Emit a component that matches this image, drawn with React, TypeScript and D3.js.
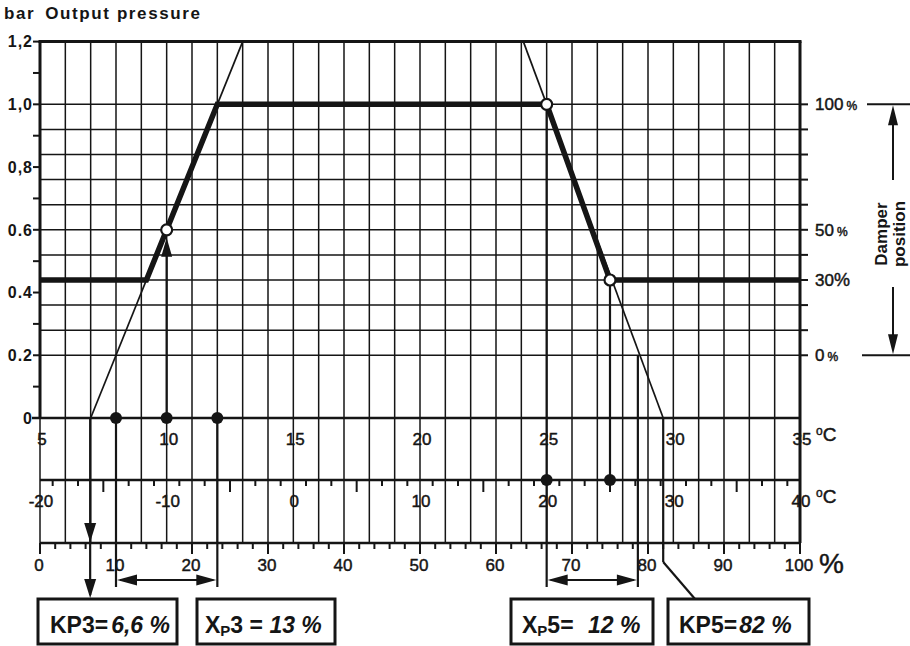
import * as d3 from 'd3';

const W = 910;
const H = 646;
const INK = '#151515';
const FONT = '"Liberation Sans", Arial, Helvetica, sans-serif';

// left axis: output pressure, bar
const PRESSURE_TICKS = [0, 0.2, 0.4, 0.6, 0.8, 1.0, 1.2];
const PRESSURE_LABELS = ['0', '0.2', '0.4', '0.6', '0,8', '1,0', '1,2'];

// right axis: damper position, %
const DAMPER_TICKS = [0, 30, 50, 100];
const DAMPER_LABELS = ['0', '30', '50', '100'];
const DAMPER_SMALL_PCT = [true, false, true, true];

// bottom scales
const ROOM_TEMP_LABELS = [5, 10, 15, 20, 25, 30, 35];
const OUTDOOR_TEMP_LABELS = [-20, -10, 0, 10, 20, 30, 40];
const PERCENT_LABELS = [0, 10, 20, 30, 40, 50, 60, 70, 80, 90, 100];

// control curve (room temperature °C -> bar)
const CURVE_TEMP = [5, 9.2, 12, 25, 27.5, 35];
const CURVE_BAR = [0.44, 0.44, 1.0, 1.0, 0.44, 0.44];

// thin proportional lines
const LEFT_LINE_TEMP = [7, 13];
const LEFT_LINE_BAR = [0, 1.2];
const RIGHT_LINE_TEMP = [24.08, 29.6];
const RIGHT_LINE_BAR = [1.2, 0];

// marked points
const OPEN_POINT_TEMP = [10, 25, 27.5];
const OPEN_POINT_BAR = [0.6, 1.0, 0.44];
const BASE_DOT_TEMP = [8, 10, 12];
const OUTDOOR_DOT_TEMP = [20, 25];

// readings
const KP3_PCT = 6.6;
const KP5_PCT = 82;
const XP3_TEMP = [8, 12];
const XP5_TEMP = [25, 28.6];

function arrowHead(x: number, y: number, dir: 'up' | 'down' | 'left' | 'right', len = 18, hw = 6) {
  if (dir === 'up') return `M${x},${y}L${x - hw},${y + len}L${x + hw},${y + len}Z`;
  if (dir === 'down') return `M${x},${y}L${x - hw},${y - len}L${x + hw},${y - len}Z`;
  if (dir === 'left') return `M${x},${y}L${x + len},${y - hw}L${x + len},${y + hw}Z`;
  return `M${x},${y}L${x - len},${y - hw}L${x - len},${y + hw}Z`;
}

export default function App() {
  const xPct = d3.scaleLinear().domain([0, 100]).range([40, 800]);
  const xRoom = d3.scaleLinear().domain([5, 35]).range([40, 800]);
  const xOut = d3.scaleLinear().domain([-20, 40]).range([40, 800]);
  const yBar = d3.scaleLinear().domain([0, 1.2]).range([418, 41.6]);
  const yDamp = d3.scaleLinear().domain([0, 100]).range([yBar(0.2), yBar(1.0)]);

  const yTop = yBar(1.2);
  const yBase = yBar(0);
  const yOut = 480;
  const yPctLine = 543;
  const xL = xRoom(5);
  const xR = xRoom(35);

  const curve = d3
    .line<number>()
    .x((_, i) => xRoom(CURVE_TEMP[i]))
    .y((_, i) => yBar(CURVE_BAR[i]));
  const leftLine = d3
    .line<number>()
    .x((_, i) => xRoom(LEFT_LINE_TEMP[i]))
    .y((_, i) => yBar(LEFT_LINE_BAR[i]));
  const rightLine = d3
    .line<number>()
    .x((_, i) => xRoom(RIGHT_LINE_TEMP[i]))
    .y((_, i) => yBar(RIGHT_LINE_BAR[i]));

  const gridTemps = d3.range(6, 35, 1);
  const gridDamper = d3.range(0, 101, 10);
  const barMinor = d3.range(0, 13).map(d => d / 10);
  const outdoorTicks = d3.range(-19, 40, 2);
  const pctTicks = d3.range(0, 101, 2);

  const xKp3 = xPct(KP3_PCT);
  const xKp5 = xPct(KP5_PCT);
  const xp3 = XP3_TEMP.map(t => xRoom(t));
  const xp5 = XP5_TEMP.map(t => xRoom(t));
  const dimY = 580;

  const boxY = 599;
  const boxH = 45;

  // scan-like medium weight for the plain labels
  const medium = { stroke: INK, strokeWidth: 0.45 };

  return (
    <svg
      width={W}
      height={H}
      viewBox={`0 0 ${W} ${H}`}
      style={{ position: 'fixed', left: 0, top: 0, background: '#fff' }}
      fontFamily={FONT}
      fill={INK}
    >
      <rect width={W} height={H} fill="#fff" />

      {/* title */}
      <text x={4} y={19} fontSize={17} fontWeight={700} letterSpacing={1.6}>
        bar
        <tspan dx={10}>Output pressure</tspan>
      </text>

      {/* grid */}
      <g stroke={INK} strokeWidth={1.5}>
        {gridTemps.map(t => (
          <line key={`v${t}`} x1={xRoom(t)} x2={xRoom(t)} y1={yTop} y2={yPctLine} />
        ))}
        {gridDamper.map(d => (
          <line key={`h${d}`} x1={xL} x2={xR} y1={yDamp(d)} y2={yDamp(d)} />
        ))}
        <line x1={xL} x2={xL} y1={yBase} y2={yPctLine} />
      </g>

      {/* frame and scale lines */}
      <g stroke={INK} fill="none">
        <line x1={xL - 1.5} x2={xR + 1.5} y1={yTop} y2={yTop} strokeWidth={3} />
        <line x1={xL} x2={xL} y1={yTop} y2={yBase} strokeWidth={3} />
        <line x1={xR} x2={xR} y1={yTop} y2={yPctLine} strokeWidth={3} />
        <line x1={xL - 8} x2={xR} y1={yBase} y2={yBase} strokeWidth={2.6} />
        <line x1={xL} x2={xR} y1={yOut} y2={yOut} strokeWidth={2.6} />
        <line x1={xL} x2={xR} y1={yPctLine} y2={yPctLine} strokeWidth={2.6} />
      </g>

      {/* left axis */}
      <g stroke={INK} strokeWidth={2}>
        {barMinor.map(b => (
          <line key={`lt${b}`} x1={xL - 7} x2={xL} y1={yBar(b)} y2={yBar(b)} />
        ))}
      </g>
      {PRESSURE_TICKS.map((p, i) => (
        <text
          key={`pl${p}`}
          x={xL - 7}
          y={yBar(p)}
          dy="0.36em"
          textAnchor="end"
          fontSize={16}
          fontWeight={700}
          letterSpacing={1}
        >
          {PRESSURE_LABELS[i]}
        </text>
      ))}

      {/* right axis */}
      <g stroke={INK} strokeWidth={2}>
        {gridDamper.map(d => (
          <line key={`rt${d}`} x1={xR} x2={xR + 8} y1={yDamp(d)} y2={yDamp(d)} />
        ))}
      </g>
      {DAMPER_TICKS.map((d, i) => (
        <text key={`dl${d}`} x={xR + 15} y={yDamp(d)} dy="0.36em" fontSize={17} {...medium}>
          {DAMPER_LABELS[i]}
          <tspan fontSize={DAMPER_SMALL_PCT[i] ? 12 : 18} dx={DAMPER_SMALL_PCT[i] ? 3 : 0}>
            %
          </tspan>
        </text>
      ))}

      {/* damper position annotation */}
      <g stroke={INK} strokeWidth={2}>
        <line x1={867} x2={W} y1={yDamp(100)} y2={yDamp(100)} />
        <line x1={862} x2={W} y1={yDamp(0)} y2={yDamp(0)} />
        <line x1={893} x2={893} y1={yDamp(100) + 8} y2={180} />
        <line x1={893} x2={893} y1={287} y2={yDamp(0) - 8} />
      </g>
      <path d={arrowHead(893, yDamp(100) + 1, 'up', 20, 5)} />
      <path d={arrowHead(893, yDamp(0) - 1, 'down', 20, 5)} />
      <text transform="translate(887,234) rotate(-90)" textAnchor="middle" fontSize={17} fontWeight={700}>
        Damper
      </text>
      <text transform="translate(905,234) rotate(-90)" textAnchor="middle" fontSize={17} fontWeight={700}>
        position
      </text>

      {/* scale ticks */}
      <g stroke={INK} strokeWidth={2}>
        {outdoorTicks.map(t => (
          <line key={`ot${t}`} x1={xOut(t)} x2={xOut(t)} y1={yOut} y2={yOut + (t % 5 === 0 ? 12 : 6)} />
        ))}
        {pctTicks.map(p => (
          <line key={`pt${p}`} x1={xPct(p)} x2={xPct(p)} y1={yPctLine} y2={yPctLine + (p % 10 === 0 ? 11 : 6)} />
        ))}
      </g>

      {/* scale labels */}
      {ROOM_TEMP_LABELS.map(t => (
        <text key={`rl${t}`} x={xRoom(t) + 2} y={445} textAnchor="middle" fontSize={17} {...medium}>
          {t}
        </text>
      ))}
      {OUTDOOR_TEMP_LABELS.map(t => (
        <text key={`ol${t}`} x={xOut(t) + 1} y={507} textAnchor="middle" fontSize={17} {...medium}>
          {t}
        </text>
      ))}
      {PERCENT_LABELS.map(p => (
        <text key={`ql${p}`} x={xPct(p) - 1} y={571} textAnchor="middle" fontSize={17} {...medium}>
          {p}
        </text>
      ))}
      <text x={816} y={441} fontSize={19} {...medium}>
        <tspan fontSize={12} dy={-6}>o</tspan>
        <tspan dy={6}>C</tspan>
      </text>
      <text x={816} y={503} fontSize={19} {...medium}>
        <tspan fontSize={12} dy={-6}>o</tspan>
        <tspan dy={6}>C</tspan>
      </text>
      <text x={819} y={573} fontSize={28} {...medium}>
        %
      </text>

      {/* thin proportional lines */}
      <path d={leftLine(LEFT_LINE_TEMP) ?? ''} fill="none" stroke={INK} strokeWidth={1.7} />
      <path d={rightLine(RIGHT_LINE_TEMP) ?? ''} fill="none" stroke={INK} strokeWidth={1.7} />

      {/* drop lines */}
      <g stroke={INK} strokeWidth={2.2} fill="none">
        <line x1={xRoom(10)} x2={xRoom(10)} y1={yBase} y2={yBar(0.6) + 14} />
        <line x1={xKp3} x2={xKp3} y1={yBase} y2={boxY - 4} />
        <line x1={xp3[0]} x2={xp3[0]} y1={yBase} y2={dimY + 7} />
        <line x1={xp3[1]} x2={xp3[1]} y1={yBase} y2={dimY + 7} />
        <line x1={xp3[0] + 4} x2={xp3[1] - 4} y1={dimY} y2={dimY} />
        <line x1={xp5[0]} x2={xp5[0]} y1={yBar(1.0)} y2={dimY + 7} />
        <line x1={xRoom(OPEN_POINT_TEMP[2])} x2={xRoom(OPEN_POINT_TEMP[2])} y1={yBar(0.44)} y2={yOut} />
        <line x1={xp5[1]} x2={xp5[1]} y1={yBar(0.2)} y2={dimY + 7} />
        <line x1={xp5[0] + 4} x2={xp5[1] - 4} y1={dimY} y2={dimY} />
        <line x1={xKp5} x2={xKp5} y1={yBase} y2={562} />
        <line x1={xKp5} x2={695} y1={562} y2={boxY} />
      </g>
      <path d={arrowHead(xRoom(10), yBar(0.6) + 8, 'up', 19, 5.5)} />
      <path d={arrowHead(xKp3, yPctLine - 1, 'down', 19, 6)} />
      <path d={arrowHead(xKp3, boxY - 1, 'down', 19, 6)} />
      <path d={arrowHead(xp3[0] + 1, dimY, 'left', 20, 5.5)} />
      <path d={arrowHead(xp3[1] - 1, dimY, 'right', 20, 5.5)} />
      <path d={arrowHead(xp5[0] + 1, dimY, 'left', 20, 5.5)} />
      <path d={arrowHead(xp5[1] - 1, dimY, 'right', 20, 5.5)} />

      {/* control curve */}
      <path
        d={curve(CURVE_TEMP) ?? ''}
        fill="none"
        stroke={INK}
        strokeWidth={5.5}
        strokeLinejoin="miter"
      />

      {/* dots */}
      {BASE_DOT_TEMP.map(t => (
        <circle key={`bd${t}`} cx={xRoom(t)} cy={yBase} r={6} />
      ))}
      {OUTDOOR_DOT_TEMP.map(t => (
        <circle key={`od${t}`} cx={xOut(t)} cy={yOut} r={6} />
      ))}
      {OPEN_POINT_TEMP.map((t, i) => (
        <circle
          key={`op${t}`}
          cx={xRoom(t)}
          cy={yBar(OPEN_POINT_BAR[i])}
          r={5.5}
          fill="#fff"
          stroke={INK}
          strokeWidth={2.2}
        />
      ))}

      {/* result boxes */}
      <g fill="#fff" stroke={INK} strokeWidth={3}>
        <rect x={38} y={boxY} width={139} height={boxH} />
        <rect x={197} y={boxY} width={138} height={boxH} />
        <rect x={511} y={boxY} width={142} height={boxH} />
        <rect x={668} y={boxY} width={141} height={boxH} />
      </g>
      <text x={50} y={633} fontSize={23} fontWeight={700}>
        KP3=
        <tspan fontStyle="italic" dx={3}>{`${String(KP3_PCT).replace('.', ',')} %`}</tspan>
      </text>
      <text x={205} y={633} fontSize={23} fontWeight={700}>
        X
        <tspan fontSize={15} dy={3}>P</tspan>
        <tspan dy={-3}>3 = </tspan>
        <tspan fontStyle="italic">13 %</tspan>
      </text>
      <text x={522} y={633} fontSize={23} fontWeight={700}>
        X
        <tspan fontSize={15} dy={3}>P</tspan>
        <tspan dy={-3}>5= </tspan>
        <tspan fontStyle="italic" dx={8}>12 %</tspan>
      </text>
      <text x={679} y={633} fontSize={23} fontWeight={700}>
        KP5=
        <tspan fontStyle="italic" dx={2}>{`${KP5_PCT} %`}</tspan>
      </text>
    </svg>
  );
}
